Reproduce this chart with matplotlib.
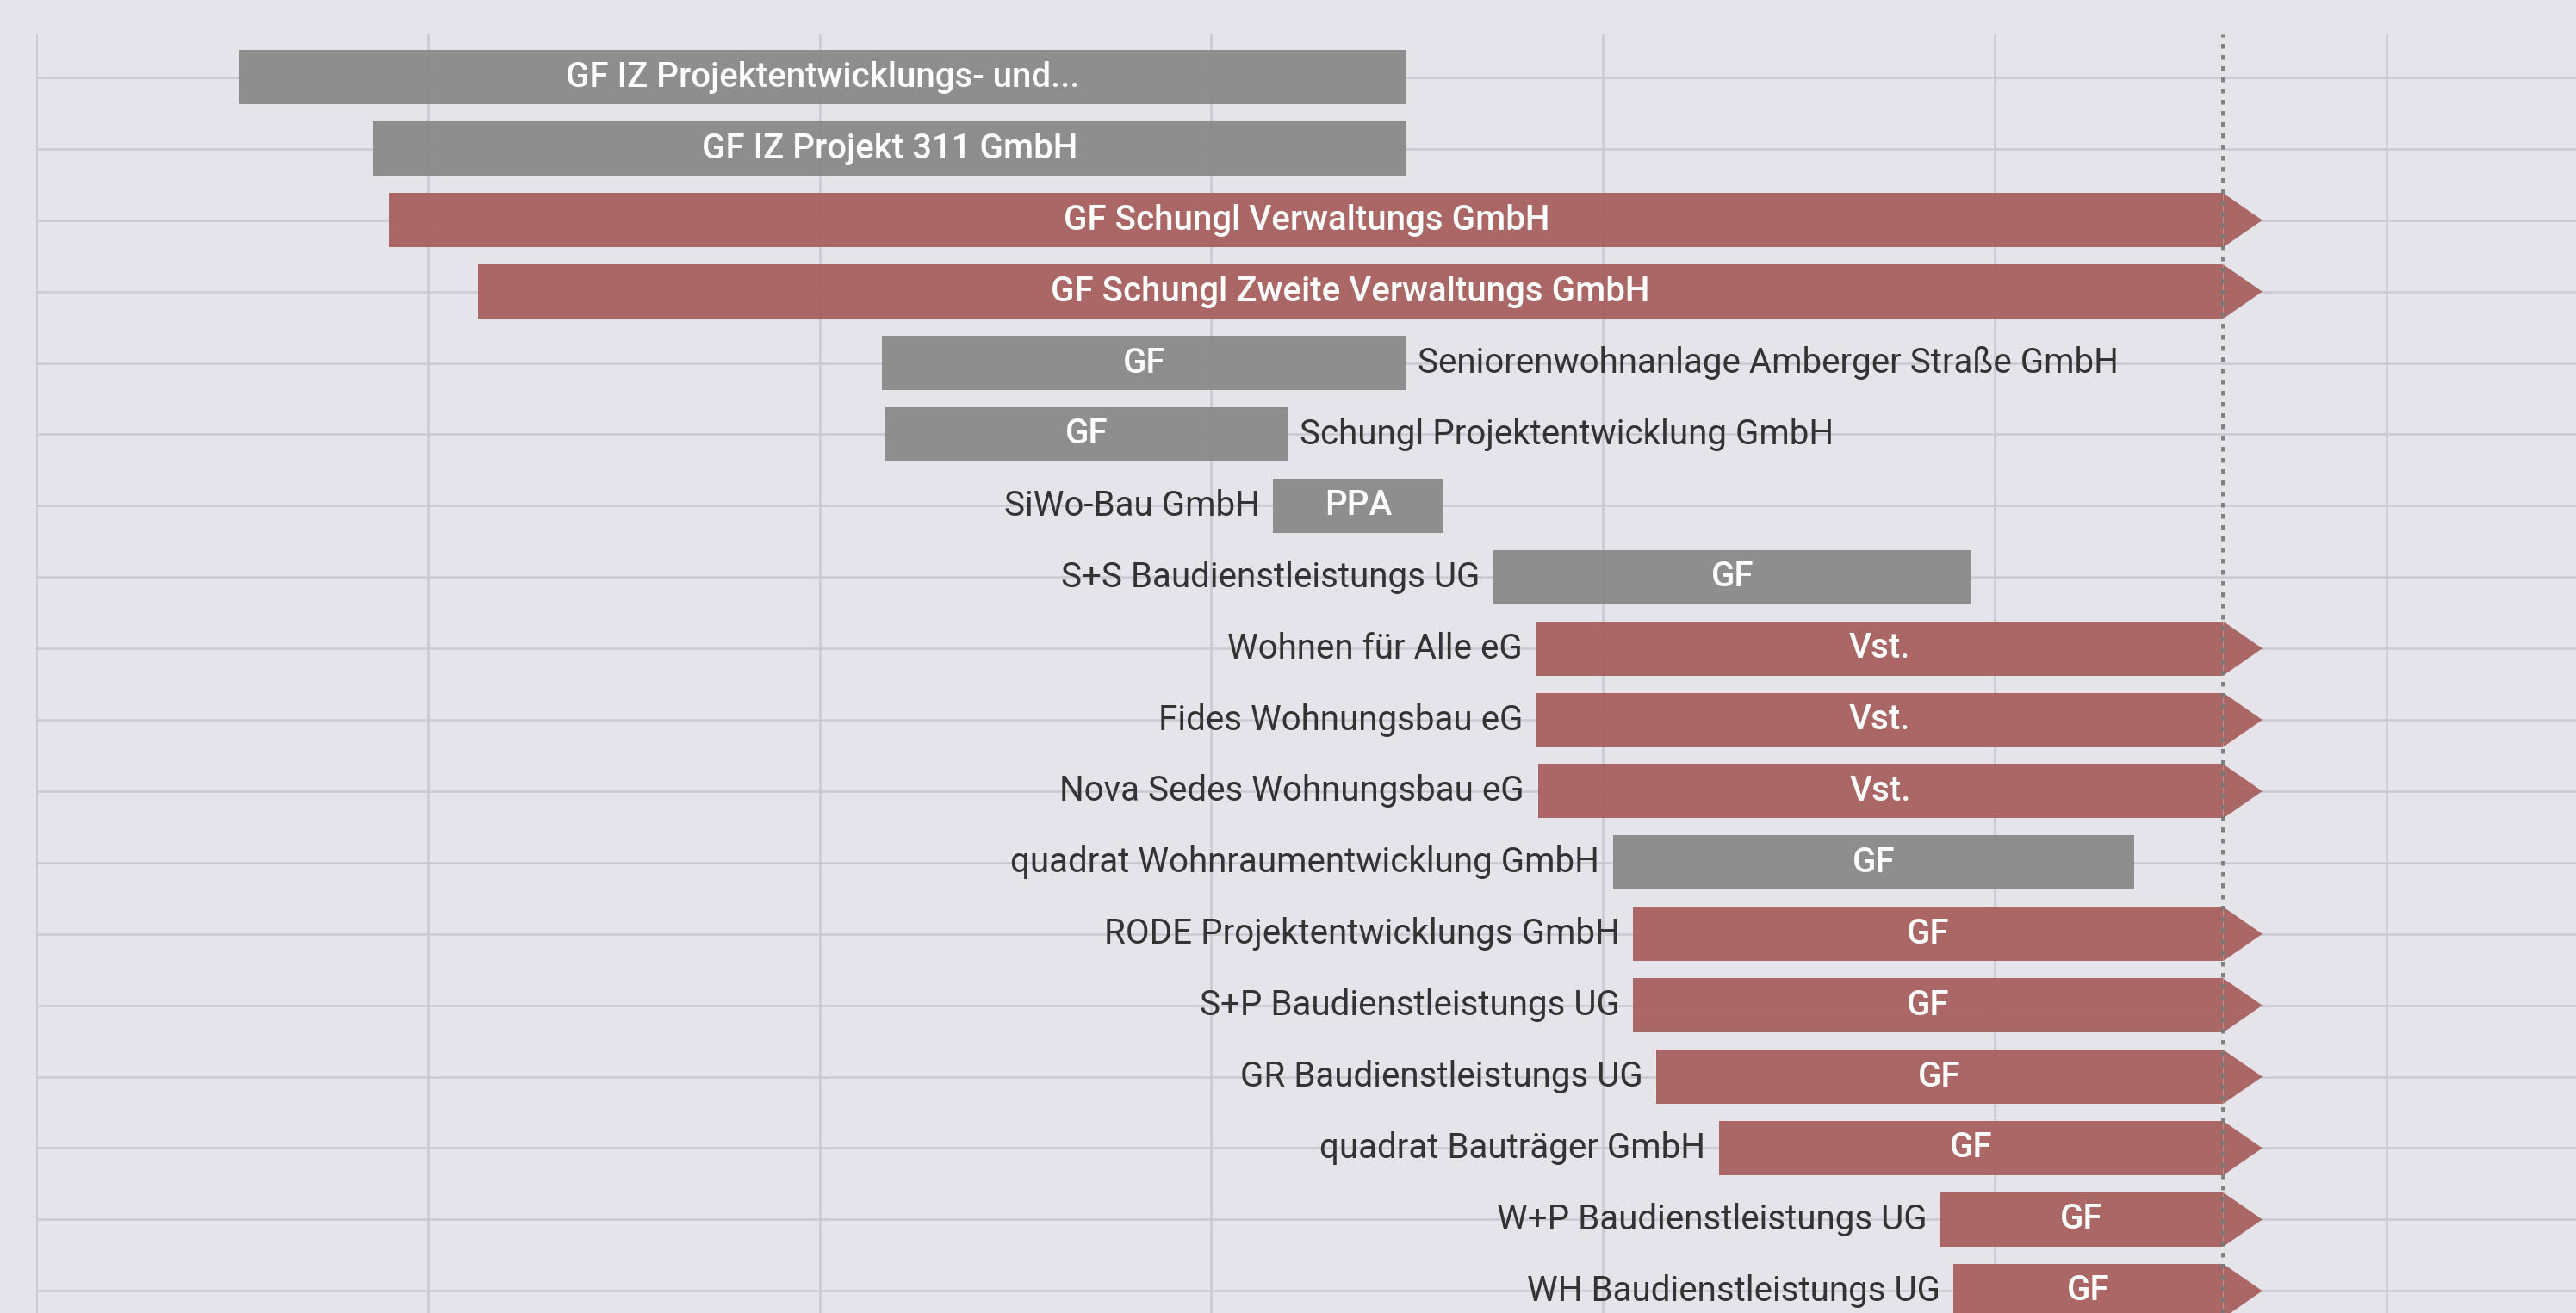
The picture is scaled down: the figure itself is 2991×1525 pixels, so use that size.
import matplotlib.pyplot as plt
from matplotlib.patches import Polygon

plt.rcParams['font.family'] = ['Roboto', 'DejaVu Sans']

# data: one row per mandate, top to bottom
names = ['IZ Projektentwicklungs- und...', 'IZ Projekt 311 GmbH', 'Schungl Verwaltungs GmbH',
         'Schungl Zweite Verwaltungs GmbH', 'Seniorenwohnanlage Amberger Straße GmbH',
         'Schungl Projektentwicklung GmbH', 'SiWo-Bau GmbH', 'S+S Baudienstleistungs UG',
         'Wohnen für Alle eG', 'Fides Wohnungsbau eG', 'Nova Sedes Wohnungsbau eG',
         'quadrat Wohnraumentwicklung GmbH', 'RODE Projektentwicklungs GmbH',
         'S+P Baudienstleistungs UG', 'GR Baudienstleistungs UG', 'quadrat Bauträger GmbH',
         'W+P Baudienstleistungs UG', 'WH Baudienstleistungs UG']
roles = ['GF', 'GF', 'GF', 'GF', 'GF', 'GF', 'PPA', 'GF', 'Vst.', 'Vst.', 'Vst.',
         'GF', 'GF', 'GF', 'GF', 'GF', 'GF', 'GF']
starts = [1997.60, 1999.30, 1999.51, 2000.64, 2005.80, 2005.84, 2010.79, 2013.60,
          2014.15, 2014.15, 2014.17, 2015.13, 2015.39, 2015.39, 2015.68, 2016.48,
          2019.31, 2019.48]
# None = still active
ends = [2012.49, 2012.49, None, None, 2012.49, 2010.98, 2012.97, 2019.71,
        None, None, None, 2021.78, None, None, None, None, None, None]
placement = ['in', 'in', 'in', 'in', 'right', 'right', 'left', 'left', 'left', 'left',
             'left', 'left', 'left', 'left', 'left', 'left', 'left', 'left']
today = 2022.92

bg = '#E4E4EA'
grey = '#888888'
red = '#A65E5C'
fs = 29

fig = plt.figure(figsize=(29.91, 15.25), dpi=100, facecolor=bg)
ax = fig.add_axes([42 / 2991, 0, 2949 / 2991, 1485 / 1525])
ax.set_facecolor(bg)

for i, name in enumerate(names):
    y = i + 1
    active = ends[i] is None
    end = today if active else ends[i]
    col = red if active else grey
    ax.barh(y, end - starts[i], left=starts[i], height=0.76, color=col, alpha=0.93, zorder=2)
    if active:
        ax.add_patch(Polygon([[end, y - 0.38], [end + 0.5, y], [end, y + 0.38]],
                             closed=True, color=col, alpha=0.93, lw=0, zorder=2))
    if placement[i] == 'in':
        ax.text((starts[i] + end) / 2, y, roles[i] + ' ' + name, color='white',
                fontsize=fs, fontweight='medium', ha='center', va='center', zorder=3)
    else:
        ax.text((starts[i] + end) / 2, y, roles[i], color='white',
                fontsize=fs, fontweight='medium', ha='center', va='center', zorder=3)
        if placement[i] == 'right':
            ax.text(end + 0.15, y, name, color='#333333', fontsize=fs,
                    ha='left', va='center', zorder=3)
        else:
            ax.text(starts[i] - 0.17, y, name, color='#333333', fontsize=fs,
                    ha='right', va='center', zorder=3)

# "today" marker
ax.axvline(today, color='#777777', lw=3.6, dashes=(1.1, 1.5), alpha=0.9, zorder=4)

ax.set_xlim(1995, 1995 + 2949 / 90.95)
ax.set_ylim(18.31, 0.397)
ax.set_xticks(range(1995, 2030, 5))
ax.set_yticks(range(1, len(names) + 1))
ax.grid(True, color='#C9C9D1', lw=1.8)
ax.set_axisbelow(True)
ax.tick_params(length=0, labelbottom=False, labelleft=False)
for s in ax.spines.values():
    s.set_visible(False)

fig.savefig('out.png', dpi=100, facecolor=bg)
